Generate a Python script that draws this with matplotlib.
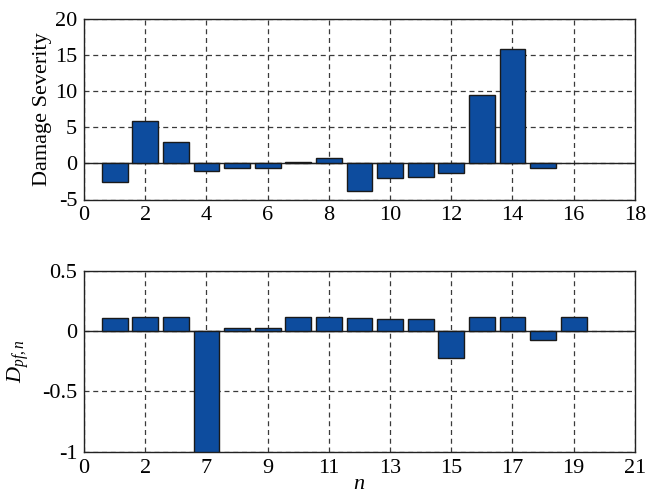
import matplotlib
matplotlib.use("Agg")
import matplotlib.pyplot as plt

# top panel: damage severity per element
top_n = list(range(1, 16))
top_vals = [-2.6, 5.85, 3.0, -1.05, -0.65, -0.65, 0.2, 0.8, -3.85, -2.0, -1.85, -1.3, 9.4, 15.75, -0.65]

# bottom panel: D_pf,n per element
bot_n = list(range(1, 17))
bot_vals = [0.11, 0.12, 0.12, -1.0, 0.028, 0.028, 0.12, 0.12, 0.108, 0.097, 0.097,
            -0.224, 0.12, 0.12, -0.077, 0.119]
bot_ticks = [0, 2, 4, 6, 8, 10, 12, 14, 16, 18]
bot_ticklabels = ["0", "2", "7", "9", "11", "13", "15", "17", "19", "21"]

BAR_COLOR = "#0D4C9E"
plt.rcParams["font.family"] = ["Liberation Serif", "DejaVu Serif"]
plt.rcParams["mathtext.fontset"] = "custom"
plt.rcParams["mathtext.it"] = "Liberation Serif:italic"
plt.rcParams["mathtext.rm"] = "Liberation Serif"

fig = plt.figure(figsize=(6.62, 5.0), dpi=100, facecolor="white")
ax1 = fig.add_axes([0.127, 0.601, 0.832, 0.362])
ax2 = fig.add_axes([0.127, 0.0966, 0.832, 0.362])


def style_axis(ax):
    ax.grid(True, linestyle=(0, (4, 3)), color="#3a3a3a", linewidth=0.9)
    ax.set_axisbelow(True)
    ax.axhline(0, color="#222222", linewidth=1.0, zorder=1)
    ax.tick_params(direction="in", length=0, labelsize=16, pad=5)
    for spine in ax.spines.values():
        spine.set_color("#222222")
        spine.set_linewidth(1.0)


ax1.bar(top_n, top_vals, width=0.84, color=BAR_COLOR, edgecolor="#1a1a1a", linewidth=1.0, zorder=3)
ax1.set_xlim(0, 18)
ax1.set_ylim(-5, 20)
ax1.set_xticks(range(0, 19, 2))
ax1.set_yticks([-5, 0, 5, 10, 15, 20])
ax1.set_yticklabels(["-5", "0", "5", "10", "15", "20"])
ax1.set_ylabel("Damage Severity", fontsize=16, labelpad=2)
style_axis(ax1)

ax2.bar(bot_n, bot_vals, width=0.84, color=BAR_COLOR, edgecolor="#1a1a1a", linewidth=1.0, zorder=3)
ax2.set_xlim(0, 18)
ax2.set_ylim(-1, 0.5)
ax2.set_xticks(bot_ticks)
ax2.set_xticklabels(bot_ticklabels)
ax2.set_yticks([-1, -0.5, 0, 0.5])
ax2.set_yticklabels(["-1", "-0.5", "0", "0.5"])
ax2.set_ylabel(r"$D_{pf,n}$", fontsize=16, labelpad=8)
ax2.set_xlabel(r"$n$", fontsize=16, labelpad=-2)
style_axis(ax2)

fig.savefig("out.png", dpi=100, facecolor="white")
